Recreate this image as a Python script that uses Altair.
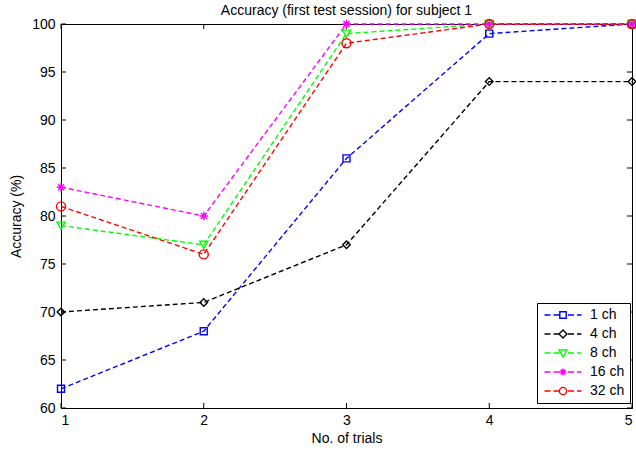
import altair as alt
import pandas as pd

# ---- data ----
trials = [1, 2, 3, 4, 5]
series_names = ["1 ch", "4 ch", "8 ch", "16 ch", "32 ch"]
acc_1ch = [62, 68, 86, 99, 100]
acc_4ch = [70, 71, 77, 94, 94]
acc_8ch = [79, 77, 99, 100, 100]
acc_16ch = [83, 80, 100, 100, 100]
acc_32ch = [81, 76, 98, 100, 100]
x_ticks = [1, 2, 3, 4, 5]
y_ticks = [60, 65, 70, 75, 80, 85, 90, 95, 100]

colors = ["#0000FF", "#000000", "#00FF00", "#FF00FF", "#FF0000"]

rows = []
for k, (name, vals) in enumerate(zip(series_names, [acc_1ch, acc_4ch, acc_8ch, acc_16ch, acc_32ch])):
    for t, v in zip(trials, vals):
        rows.append({"trial": t, "acc": v, "series": name, "k": k})
df = pd.DataFrame(rows)
xt = pd.DataFrame({"v": x_ticks})
yt = pd.DataFrame({"v": y_ticks})

W, H = 571, 384
FONT = "Liberation Sans"

asterisk = "M-1,0L1,0M0,-1L0,1M-0.7,-0.7L0.7,0.7M-0.7,0.7L0.7,-0.7"
marker_shapes = ["square", "diamond", "triangle-down", asterisk, "circle"]
marker_sizes = [49, 81, 81, 49, 64]

# ---- legend symbols: dashed line + marker, drawn as one custom path ----
LEG_SIZE = 100
U = (LEG_SIZE ** 0.5) / 2.0  # pixels per path unit


def f(v):
    return f"{v / U:.3f}"


def seg(a, b):
    return f"M{f(a)},0H{f(b)}"


MX = 14.0  # marker centre (px from symbol centre)
dash_px = [(-4.5, 1.5), (4.5, 10.5), (19.0, 25.0), (28.0, 32.5)]
dash_path = "".join(seg(a, b) for a, b in dash_px)


def sq(r):
    return f"M{f(MX - r)},{f(-r)}H{f(MX + r)}V{f(r)}H{f(MX - r)}Z"


def dia(r):
    return f"M{f(MX - r)},0L{f(MX)},{f(-r)}L{f(MX + r)},0L{f(MX)},{f(r)}Z"


def tri(r):
    return f"M{f(MX - r)},{f(-0.75 * r)}L{f(MX + r)},{f(-0.75 * r)}L{f(MX)},{f(r)}Z"


def star(r):
    d = 0.7 * r
    return (f"M{f(MX - r)},0H{f(MX + r)}M{f(MX)},{f(-r)}V{f(r)}"
            f"M{f(MX - d)},{f(-d)}L{f(MX + d)},{f(d)}M{f(MX - d)},{f(d)}L{f(MX + d)},{f(-d)}")


def circ(r):
    return (f"M{f(MX + r)},0A{f(r)},{f(r)} 0 1,1 {f(MX - r)},0"
            f"A{f(r)},{f(r)} 0 1,1 {f(MX + r)},0Z")


legend_shapes = [dash_path + m for m in [sq(3.2), dia(4.0), tri(4.0), star(3.5), circ(3.6)]]

xscale = alt.Scale(domain=[1, 5], nice=False, zero=False)
yscale = alt.Scale(domain=[60, 100], nice=False, zero=False)

X = alt.X("trial:Q", scale=xscale,
          axis=alt.Axis(values=x_ticks, format="d", title="No. of trials",
                        tickSize=0, ticks=False, labelPadding=5, titlePadding=4))
Y = alt.Y("acc:Q", scale=yscale,
          axis=alt.Axis(values=y_ticks, title="Accuracy (%)",
                        tickSize=0, ticks=False, labelPadding=6, titlePadding=8))

base = alt.Chart(df)

lines = base.mark_line(strokeDash=[5, 3], strokeWidth=1.4).encode(
    x=X, y=Y,
    color=alt.Color("series:N", scale=alt.Scale(domain=series_names, range=colors), legend=None),
    order="trial:Q",
)

points = base.mark_point(filled=False, strokeWidth=1.4, opacity=1).encode(
    x=X, y=Y,
    color=alt.Color("series:N", scale=alt.Scale(domain=series_names, range=colors), legend=None),
    shape=alt.Shape("series:N", scale=alt.Scale(domain=series_names, range=marker_shapes), legend=None),
    size=alt.Size("series:N", scale=alt.Scale(domain=series_names, range=marker_sizes), legend=None),
)

leg_props = dict(
    orient="none", legendX=476, legendY=279, direction="vertical",
    title=None, strokeColor="black", fillColor="white", padding=5,
    rowPadding=5, labelFontSize=14, labelFont=FONT, labelColor="black",
    labelOffset=34, symbolSize=LEG_SIZE, symbolStrokeWidth=1.4,
)

legend_layer = base.transform_filter("false").mark_point(
    filled=False, strokeWidth=1.4, size=LEG_SIZE, opacity=1
).encode(
    color=alt.Color("series:N", scale=alt.Scale(domain=series_names, range=colors),
                    legend=alt.Legend(**leg_props)),
    shape=alt.Shape("series:N", scale=alt.Scale(domain=series_names, range=legend_shapes),
                    legend=alt.Legend(**leg_props)),
)

tick_len = 5
xt_bottom = alt.Chart(xt).mark_rule(color="black", strokeWidth=1).encode(
    x=alt.X("v:Q", scale=xscale), y=alt.value(H), y2=alt.value(H - tick_len))
xt_top = alt.Chart(xt).mark_rule(color="black", strokeWidth=1).encode(
    x=alt.X("v:Q", scale=xscale), y=alt.value(0), y2=alt.value(tick_len))
yt_left = alt.Chart(yt).mark_rule(color="black", strokeWidth=1).encode(
    y=alt.Y("v:Q", scale=yscale), x=alt.value(0), x2=alt.value(tick_len))
yt_right = alt.Chart(yt).mark_rule(color="black", strokeWidth=1).encode(
    y=alt.Y("v:Q", scale=yscale), x=alt.value(W), x2=alt.value(W - tick_len))

chart = alt.layer(
    xt_bottom, xt_top, yt_left, yt_right, lines, points, legend_layer
).resolve_scale(
    color="independent", shape="independent", size="independent"
).properties(
    width=W, height=H,
    autosize=alt.AutoSizeParams(type="none"),
    padding={"left": 61, "top": 24, "right": 4, "bottom": 45},
    background="white",
    title=alt.Title("Accuracy (first test session) for subject 1",
                    fontSize=14, fontWeight="normal", font=FONT, color="black",
                    frame="group", offset=-1),
).configure_view(
    stroke="black", strokeWidth=1
).configure_axis(
    grid=False, domainColor="black", domainWidth=1,
    labelFont=FONT, labelFontSize=14, labelColor="black",
    titleFont=FONT, titleFontSize=14, titleFontWeight="normal", titleColor="black",
)

chart.save("out.html", embed_options={"renderer": "svg", "actions": False})
